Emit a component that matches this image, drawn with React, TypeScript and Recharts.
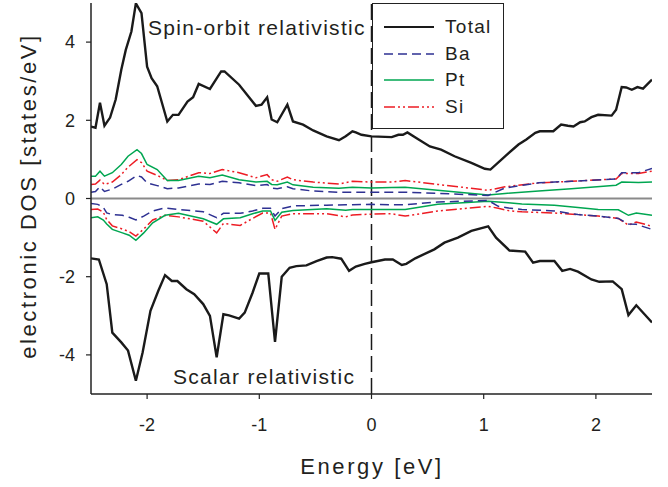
import React from 'react';
import { LineChart, Line, XAxis, YAxis, ReferenceLine, Legend, Customized } from 'recharts';

// ---- Spin-orbit relativistic (positive side) ----
const soTotalE = [-2.5, -2.46, -2.42, -2.38, -2.33, -2.28, -2.23, -2.19, -2.14, -2.10, -2.05, -2.00, -1.96, -1.91, -1.82, -1.77, -1.72, -1.64, -1.59, -1.54, -1.44, -1.34, -1.31, -1.18, -1.03, -0.98, -0.93, -0.89, -0.84, -0.75, -0.70, -0.61, -0.52, -0.40, -0.29, -0.23, -0.17, -0.14, -0.09, 0, 0.18, 0.24, 0.28, 0.32, 0.42, 0.52, 0.62, 0.74, 0.89, 1.01, 1.06, 1.19, 1.31, 1.38, 1.46, 1.50, 1.62, 1.69, 1.75, 1.80, 1.86, 1.90, 1.96, 2.02, 2.14, 2.18, 2.23, 2.27, 2.32, 2.37, 2.42, 2.5];
const soTotal = [1.84, 1.81, 2.45, 1.86, 2.07, 2.53, 3.29, 3.80, 4.27, 4.99, 4.74, 3.37, 3.08, 2.87, 1.97, 2.14, 2.14, 2.48, 2.59, 2.93, 2.80, 3.25, 3.25, 2.91, 2.37, 2.40, 2.59, 2.02, 1.95, 2.40, 1.97, 1.89, 1.74, 1.59, 1.49, 1.59, 1.72, 1.69, 1.63, 1.59, 1.57, 1.63, 1.63, 1.69, 1.51, 1.33, 1.25, 1.08, 0.91, 0.76, 0.74, 1.08, 1.38, 1.51, 1.68, 1.72, 1.72, 1.89, 1.86, 1.84, 1.95, 1.97, 2.08, 2.14, 2.12, 2.27, 2.85, 2.84, 2.78, 2.85, 2.81, 3.04];

const soPartE = [-2.5, -2.46, -2.42, -2.38, -2.31, -2.23, -2.17, -2.09, -2.05, -2.0, -1.91, -1.82, -1.72, -1.54, -1.44, -1.33, -1.18, -1.03, -0.93, -0.89, -0.84, -0.75, -0.70, -0.52, -0.29, -0.17, 0, 0.18, 0.30, 0.59, 1.04, 1.19, 1.49, 1.78, 2.18, 2.23, 2.38, 2.5];
const soBa = [0.16, 0.18, 0.30, 0.18, 0.24, 0.36, 0.44, 0.59, 0.55, 0.40, 0.33, 0.25, 0.27, 0.37, 0.36, 0.44, 0.40, 0.33, 0.36, 0.27, 0.25, 0.30, 0.25, 0.19, 0.16, 0.16, 0.16, 0.16, 0.16, 0.13, 0.08, 0.27, 0.40, 0.44, 0.50, 0.66, 0.66, 0.77];
const soPt = [0.57, 0.57, 0.70, 0.57, 0.66, 0.87, 1.08, 1.25, 1.15, 0.87, 0.74, 0.46, 0.46, 0.57, 0.53, 0.60, 0.48, 0.42, 0.44, 0.36, 0.35, 0.42, 0.35, 0.29, 0.26, 0.29, 0.27, 0.28, 0.29, 0.21, 0.09, 0.13, 0.19, 0.25, 0.34, 0.42, 0.41, 0.42];
const soSi = [0.36, 0.37, 0.47, 0.36, 0.42, 0.61, 0.80, 0.99, 0.92, 0.70, 0.59, 0.46, 0.48, 0.66, 0.64, 0.74, 0.66, 0.53, 0.61, 0.48, 0.44, 0.55, 0.48, 0.42, 0.37, 0.44, 0.42, 0.42, 0.46, 0.36, 0.21, 0.30, 0.40, 0.44, 0.50, 0.64, 0.64, 0.70];

// ---- Scalar relativistic (negative side) ----
const srTotalE = [-2.5, -2.43, -2.36, -2.31, -2.23, -2.17, -2.10, -2.04, -1.97, -1.90, -1.84, -1.78, -1.73, -1.65, -1.58, -1.50, -1.44, -1.38, -1.32, -1.27, -1.18, -1.13, -1.06, -1.00, -0.92, -0.86, -0.80, -0.73, -0.67, -0.58, -0.49, -0.40, -0.35, -0.27, -0.20, -0.14, -0.06, 0, 0.12, 0.19, 0.27, 0.31, 0.39, 0.56, 0.65, 0.77, 0.89, 1.04, 1.11, 1.23, 1.37, 1.44, 1.50, 1.63, 1.70, 1.77, 1.84, 1.96, 2.03, 2.15, 2.23, 2.29, 2.36, 2.5];
const srTotal = [-1.53, -1.56, -2.19, -3.43, -3.68, -3.89, -4.66, -3.94, -2.87, -2.36, -1.96, -2.11, -2.11, -2.32, -2.45, -2.70, -3.00, -4.06, -2.96, -2.99, -3.07, -2.92, -2.41, -1.92, -1.92, -3.67, -2.00, -1.77, -1.73, -1.71, -1.60, -1.51, -1.50, -1.54, -1.85, -1.74, -1.67, -1.63, -1.56, -1.56, -1.70, -1.67, -1.53, -1.30, -1.13, -1.00, -0.83, -0.71, -1.00, -1.33, -1.36, -1.64, -1.60, -1.60, -1.85, -1.80, -1.87, -2.07, -2.13, -2.12, -2.32, -2.98, -2.73, -3.17];

const srPartE = [-2.5, -2.44, -2.39, -2.36, -2.31, -2.22, -2.16, -2.10, -2.03, -1.95, -1.84, -1.72, -1.50, -1.38, -1.32, -1.17, -1.06, -0.97, -0.90, -0.86, -0.80, -0.70, -0.40, -0.23, -0.17, 0, 0.18, 0.30, 0.59, 1.04, 1.13, 1.22, 1.34, 1.63, 1.84, 2.02, 2.20, 2.29, 2.36, 2.5];
const srBa = [-0.13, -0.15, -0.23, -0.37, -0.41, -0.43, -0.48, -0.55, -0.45, -0.32, -0.24, -0.28, -0.34, -0.49, -0.38, -0.38, -0.32, -0.25, -0.25, -0.45, -0.26, -0.19, -0.17, -0.16, -0.16, -0.15, -0.16, -0.16, -0.09, -0.05, -0.20, -0.24, -0.28, -0.32, -0.41, -0.45, -0.51, -0.65, -0.66, -0.79];
const srPt = [-0.49, -0.47, -0.55, -0.65, -0.79, -0.88, -0.94, -1.07, -0.88, -0.62, -0.43, -0.38, -0.52, -0.66, -0.52, -0.49, -0.39, -0.32, -0.32, -0.56, -0.35, -0.31, -0.26, -0.30, -0.28, -0.28, -0.28, -0.28, -0.15, -0.07, -0.09, -0.11, -0.14, -0.17, -0.23, -0.28, -0.29, -0.43, -0.37, -0.43];
const srSi = [-0.28, -0.27, -0.35, -0.54, -0.70, -0.78, -0.85, -0.96, -0.78, -0.55, -0.43, -0.47, -0.58, -0.88, -0.64, -0.69, -0.51, -0.37, -0.37, -0.79, -0.45, -0.39, -0.39, -0.47, -0.42, -0.40, -0.39, -0.45, -0.32, -0.20, -0.25, -0.31, -0.34, -0.37, -0.41, -0.45, -0.51, -0.68, -0.60, -0.71];

const xTicks = [-2, -1, 0, 1, 2];
const yTicks = [-4, -2, 0, 2, 4];
const seriesNames = ['Total', 'Ba', 'Pt', 'Si'];

const FONT = '"Liberation Sans", Arial, sans-serif';
const TXT = '#231f20';
const COLORS: Record<string, string> = { Total: '#1a1a1a', Ba: '#2e3192', Pt: '#00a651', Si: '#ed1c24' };
const DASH: Record<string, string | undefined> = { Total: undefined, Ba: '9 5', Pt: undefined, Si: '11 3 2 3 2 3' };
const WIDTH: Record<string, number> = { Total: 2.4, Ba: 1.5, Pt: 1.5, Si: 1.5 };

const zip = (xs: number[], ys: number[]) => xs.map((x, i) => ({ x, y: ys[i] }));

const series = [
  { key: 'soSi', name: 'Si', data: zip(soPartE, soSi) },
  { key: 'soPt', name: 'Pt', data: zip(soPartE, soPt) },
  { key: 'soBa', name: 'Ba', data: zip(soPartE, soBa) },
  { key: 'soTotal', name: 'Total', data: zip(soTotalE, soTotal) },
  { key: 'srSi', name: 'Si', data: zip(srPartE, srSi) },
  { key: 'srPt', name: 'Pt', data: zip(srPartE, srPt) },
  { key: 'srBa', name: 'Ba', data: zip(srPartE, srBa) },
  { key: 'srTotal', name: 'Total', data: zip(srTotalE, srTotal) },
];

const LegendBox = () => (
  <div
    style={{
      width: 132,
      height: 126,
      boxSizing: 'border-box',
      border: '1.5px solid #222',
      background: '#fff',
      paddingTop: 10,
      fontFamily: FONT,
    }}
  >
    {seriesNames.map((n) => (
      <div key={n} style={{ display: 'flex', alignItems: 'center', height: 26.5 }}>
        <svg width={60} height={10} style={{ marginLeft: 10 }}>
          <line x1={1} y1={5} x2={51} y2={5} stroke={COLORS[n]} strokeWidth={n === 'Total' ? 2.2 : 1.5} strokeDasharray={DASH[n]} />
        </svg>
        <span style={{ fontSize: 19, letterSpacing: 1.3, color: TXT, marginLeft: 2 }}>{n}</span>
      </div>
    ))}
  </div>
);

const Annotations = () => (
  <g fontFamily={FONT} fill={TXT}>
    <text x={148} y={35} fontSize={21} style={{ letterSpacing: 1.3 }}>Spin-orbit relativistic</text>
    <text x={173} y={384} fontSize={21} style={{ letterSpacing: 1.3 }}>Scalar relativistic</text>
    <text x={372} y={474} fontSize={22} textAnchor="middle" style={{ letterSpacing: 2.6 }}>Energy [eV]</text>
    <text x={36} y={196} fontSize={22} textAnchor="middle" transform="rotate(-90 36 196)" style={{ letterSpacing: 2.6 }}>electronic DOS [states/eV]</text>
  </g>
);

export default function App() {
  return (
    <div style={{ position: 'absolute', left: 0, top: 0, background: '#fff' }}>
      <LineChart width={668} height={487} margin={{ top: 3, right: 16, bottom: 0, left: 0 }}>
        <XAxis
          dataKey="x"
          type="number"
          domain={[-2.5, 2.5]}
          ticks={xTicks}
          allowDataOverflow
          height={93}
          tickSize={5}
          tickMargin={19}
          tick={{ fontSize: 18, fill: TXT, fontFamily: FONT }}
          axisLine={{ stroke: '#222', strokeWidth: 1.5 }}
          tickLine={{ stroke: '#222', strokeWidth: 1.2 }}
        />
        <XAxis
          xAxisId="top"
          orientation="top"
          type="number"
          domain={[-2.5, 2.5]}
          height={0}
          tick={false}
          tickLine={false}
          axisLine={{ stroke: '#222', strokeWidth: 1.5 }}
        />
        <YAxis
          type="number"
          domain={[-5, 5]}
          ticks={yTicks}
          allowDataOverflow
          width={91}
          tickSize={5}
          tickMargin={11}
          tick={{ fontSize: 18, fill: TXT, fontFamily: FONT }}
          axisLine={{ stroke: '#222', strokeWidth: 1.5 }}
          tickLine={{ stroke: '#222', strokeWidth: 1.2 }}
        />
        <YAxis
          yAxisId="right"
          orientation="right"
          type="number"
          domain={[-5, 5]}
          width={0}
          tick={false}
          tickLine={false}
          axisLine={{ stroke: '#222', strokeWidth: 1.5 }}
        />
        <ReferenceLine y={0} stroke="#8a8a8a" strokeWidth={2} />
        <ReferenceLine x={0} stroke="#1a1a1a" strokeWidth={1.5} strokeDasharray="16 6" />
        {series.map((s) => (
          <Line
            key={s.key}
            data={s.data}
            dataKey="y"
            name={s.name}
            type="linear"
            stroke={COLORS[s.name]}
            strokeWidth={WIDTH[s.name]}
            strokeDasharray={DASH[s.name]}
            dot={false}
            activeDot={false}
            isAnimationActive={false}
            legendType="line"
          />
        ))}
        <Legend
          layout="vertical"
          align="center"
          verticalAlign="middle"
          content={() => <LegendBox />}
          wrapperStyle={{ position: 'absolute', left: 372, top: 3, width: 132, height: 126 }}
        />
        <Customized component={Annotations} />
      </LineChart>
    </div>
  );
}
